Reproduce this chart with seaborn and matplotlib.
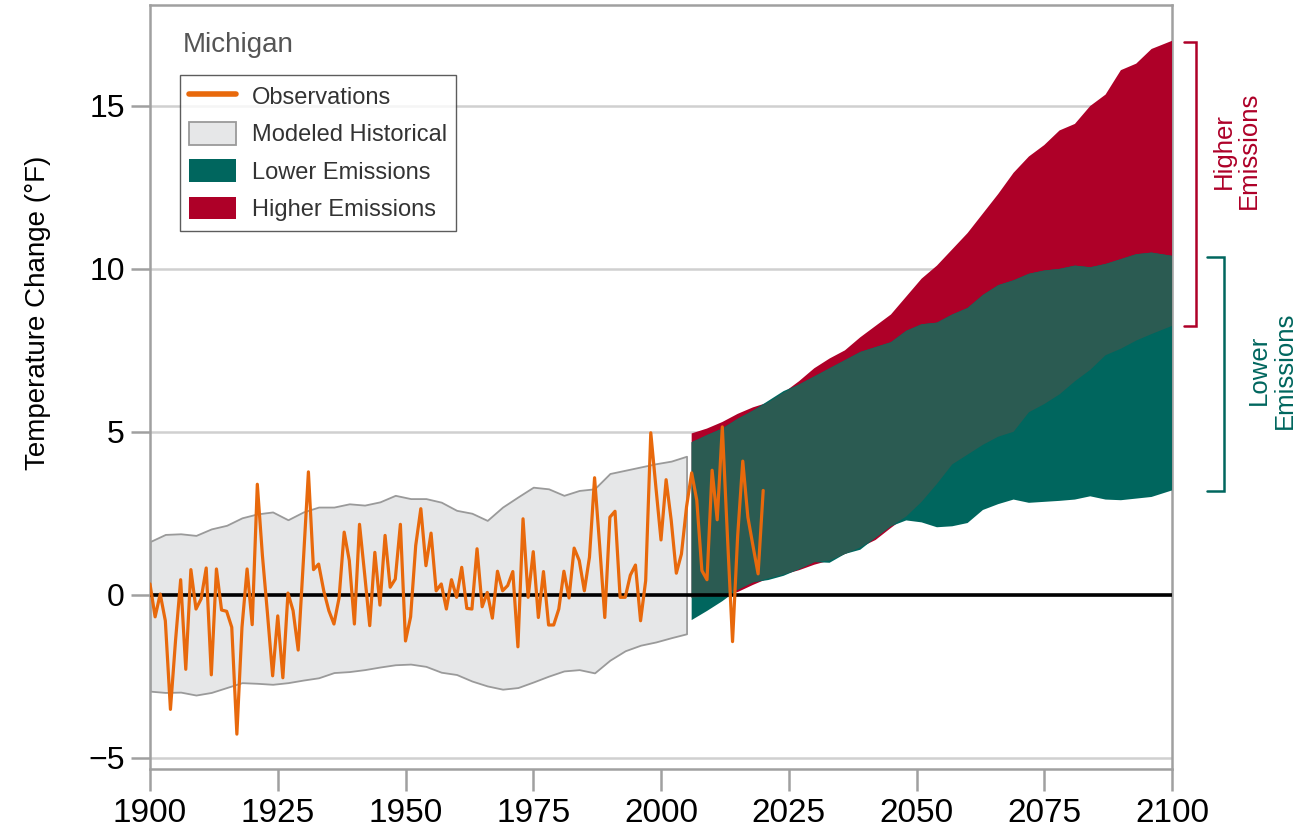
import numpy as np
import pandas as pd
import matplotlib
matplotlib.use("Agg")
import matplotlib.pyplot as plt
import seaborn as sns
from matplotlib.lines import Line2D
from matplotlib.patches import Patch

# ---------------- data ----------------
obs_years = list(range(1900, 2021))
obs_values = [
    0.33, -0.68, 0.02, -0.8, -3.52, -1.4, 0.46, -2.29, 0.77, -0.44,
    -0.13, 0.82, -2.46, 0.79, -0.47, -0.51, -1.0, -4.28, -1.0, 0.79,
    -0.92, 3.39, 1.2, -0.6, -2.49, -0.65, -2.55, 0.05, -0.49, -1.7,
    1.0, 3.77, 0.77, 0.94, 0.12, -0.49, -0.9, -0.1, 1.92, 1.05,
    -0.9, 2.16, 0.64, -0.95, 1.3, -0.32, 1.82, 0.23, 0.48, 2.16,
    -1.42, -0.68, 1.51, 2.64, 0.89, 1.89, 0.12, 0.33, -0.44, 0.46,
    -0.08, 0.84, -0.42, -0.44, 1.41, -0.37, 0.07, -0.72, 0.72, 0.12,
    0.28, 0.71, -1.6, 2.33, -0.08, 1.32, -0.7, 0.71, -0.93, -0.93,
    -0.44, 0.72, -0.1, 1.43, 1.05, 0.12, 1.15, 3.59, 1.5, -0.7,
    2.38, 2.56, -0.08, -0.08, 0.6, 0.91, -0.8, 0.43, 4.97, 3.3,
    1.68, 3.53, 2.28, 0.66, 1.25, 2.7, 3.74, 2.9, 0.74, 0.46,
    3.82, 2.3, 5.15, 1.8, -1.44, 1.8, 4.1, 2.38, 1.5, 0.64, 3.2,
]

hist_years = [1900, 1903, 1906, 1909, 1912, 1915, 1918, 1921, 1924, 1927,
              1930, 1933, 1936, 1939, 1942, 1945, 1948, 1951, 1954, 1957,
              1960, 1963, 1966, 1969, 1972, 1975, 1978, 1981, 1984, 1987,
              1990, 1993, 1996, 1999, 2002, 2005]
hist_upper = [1.63, 1.85, 1.87, 1.82, 2.02, 2.13, 2.36, 2.48, 2.54, 2.3,
              2.54, 2.69, 2.69, 2.79, 2.75, 2.85, 3.05, 2.95, 2.95, 2.84,
              2.59, 2.5, 2.28, 2.69, 3.0, 3.3, 3.25, 3.05, 3.2, 3.25,
              3.72, 3.82, 3.92, 4.02, 4.1, 4.25]
hist_lower = [-2.96, -3.0, -2.99, -3.08, -3.0, -2.85, -2.7, -2.72, -2.75, -2.7,
              -2.62, -2.55, -2.39, -2.36, -2.3, -2.22, -2.15, -2.13, -2.2, -2.38,
              -2.45, -2.65, -2.8, -2.9, -2.85, -2.68, -2.5, -2.34, -2.3, -2.4,
              -2.01, -1.72, -1.55, -1.45, -1.32, -1.2]

proj_years = [2006, 2009, 2012, 2015, 2018, 2021, 2024, 2027, 2030, 2033,
              2036, 2039, 2042, 2045, 2048, 2051, 2054, 2057, 2060, 2063,
              2066, 2069, 2072, 2075, 2078, 2081, 2084, 2087, 2090, 2093,
              2096, 2100]
higher_upper = [4.95, 5.1, 5.3, 5.55, 5.75, 5.9, 6.2, 6.55, 6.95, 7.25,
                7.5, 7.9, 8.25, 8.6, 9.15, 9.7, 10.1, 10.6, 11.1, 11.7,
                12.3, 12.95, 13.45, 13.8, 14.25, 14.45, 15.0, 15.35, 16.1, 16.3,
                16.75, 17.0]
higher_lower = [-0.1, -0.05, 0.02, 0.08, 0.3, 0.5, 0.62, 0.75, 0.92, 1.05,
                1.25, 1.45, 1.68, 2.05, 2.4, 2.85, 3.4, 4.0, 4.3, 4.6,
                4.85, 5.0, 5.6, 5.85, 6.15, 6.55, 6.9, 7.35, 7.55, 7.8,
                8.0, 8.25]
lower_upper = [4.68, 4.9, 5.1, 5.4, 5.65, 5.95, 6.25, 6.45, 6.7, 6.95,
               7.2, 7.45, 7.6, 7.75, 8.1, 8.3, 8.35, 8.6, 8.8, 9.2,
               9.5, 9.65, 9.85, 9.95, 10.0, 10.1, 10.05, 10.15, 10.3, 10.45,
               10.5, 10.4]
lower_lower = [-0.78, -0.5, -0.2, 0.15, 0.38, 0.45, 0.58, 0.78, 1.0, 0.98,
               1.25, 1.38, 1.75, 2.1, 2.28, 2.22, 2.07, 2.1, 2.2, 2.6,
               2.78, 2.92, 2.82, 2.85, 2.88, 2.92, 3.02, 2.92, 2.9, 2.95,
               3.0, 3.2]

x_ticks = [1900, 1925, 1950, 1975, 2000, 2025, 2050, 2075, 2100]
y_ticks = [-5, 0, 5, 10, 15]

# ---------------- style ----------------
ORANGE = "#E8690C"
GRAY_FILL = "#E6E7E8"
GRAY_EDGE = "#9A9A9A"
TEAL = "#00665E"
RED = "#AE0028"
OVERLAP = "#2B5B52"
AXIS_GRAY = "#A0A0A0"

sns.set_style("white")
plt.rcParams['font.family'] = ['Liberation Sans', 'DejaVu Sans']

fig = plt.figure(figsize=(13.03, 8.32), dpi=100)
ax = fig.add_axes([150 / 1303, 1 - 769 / 832, 1022 / 1303, 764 / 832])

obs_df = pd.DataFrame({"year": obs_years, "value": obs_values})

# modeled historical band
ax.fill_between(hist_years, hist_lower, hist_upper, facecolor=GRAY_FILL,
                edgecolor=GRAY_EDGE, linewidth=1.3, zorder=2)

# projections
py = np.array(proj_years, dtype=float)
hu, hl = np.array(higher_upper), np.array(higher_lower)
lu, ll = np.array(lower_upper), np.array(lower_lower)
ax.fill_between(py, hl, hu, facecolor=RED, edgecolor="none", linewidth=0, zorder=3)
ax.fill_between(py, ll, lu, facecolor=TEAL, edgecolor="none", linewidth=0, zorder=3.1)
ov_lo = np.maximum(hl, ll)
ov_hi = np.minimum(hu, lu)
ax.fill_between(py, ov_lo, ov_hi, where=ov_hi > ov_lo, interpolate=True,
                facecolor=OVERLAP, edgecolor="none", linewidth=0, zorder=3.2)

# zero line
ax.axhline(0, color="black", lw=2.6, zorder=4)

# observations
sns.lineplot(data=obs_df, x="year", y="value", color=ORANGE, lw=2.3,
             ax=ax, zorder=5, legend=False)

# axes formatting
ax.set_xlim(1900, 2100)
ax.set_ylim(-5.35, 18.1)
ax.set_xticks(x_ticks)
ax.set_yticks(y_ticks)
ax.set_xticklabels([str(t) for t in x_ticks])
ax.set_yticklabels([f"{t}".replace("-", "\u2212") for t in y_ticks])
ax.set_xlabel("")
ax.set_ylabel("Temperature Change (°F)", fontsize=20, color="black")
ax.yaxis.set_label_coords(-0.097, 0.597)
ax.yaxis.grid(True, color="#D0D0D0", lw=1.8, zorder=0)
ax.set_axisbelow(True)
for sp in ax.spines.values():
    sp.set_color(AXIS_GRAY)
    sp.set_linewidth(1.8)
    sp.set_visible(True)
ax.tick_params(axis="y", direction="out", length=14, width=1.8, color=AXIS_GRAY,
               labelsize=23, labelcolor="black", pad=4, left=True)
ax.tick_params(axis="x", direction="out", length=16, width=1.8, color=AXIS_GRAY,
               labelsize=24, labelcolor="black", pad=5, bottom=True)

# title text
ax.text(0.032, 0.948, "Michigan", transform=ax.transAxes, fontsize=20,
        color="#555555", ha="left", va="center")

# legend
handles = [
    Line2D([0], [0], color=ORANGE, lw=4, solid_capstyle="round"),
    Patch(facecolor=GRAY_FILL, edgecolor=GRAY_EDGE, linewidth=1.3),
    Patch(facecolor=TEAL, edgecolor="none"),
    Patch(facecolor=RED, edgecolor="none"),
]
labels = ["Observations", "Modeled Historical", "Lower Emissions", "Higher Emissions"]
leg = ax.legend(handles, labels, loc="upper left", bbox_to_anchor=(0.029, 0.908),
                borderaxespad=0, fontsize=17, frameon=True, fancybox=False,
                handlelength=2.0, handleheight=1.1, handletextpad=0.65,
                labelspacing=0.55, borderpad=0.4)
leg.get_frame().set_edgecolor("#333333")
leg.get_frame().set_linewidth(1.0)
for t in leg.get_texts():
    t.set_color("#333333")

# right-side brackets and labels
rx_v, rx_t = 2104.6, 2102.3
ax.plot([rx_t, rx_v, rx_v, rx_t], [hl[-1], hl[-1], hu[-1] - 0.05, hu[-1] - 0.05],
        color=RED, lw=1.8, clip_on=False, solid_joinstyle="miter")
tx_v, tx_t = 2110.1, 2106.8
ax.plot([tx_t, tx_v, tx_v, tx_t], [ll[-1] - 0.03, ll[-1] - 0.03, lu[-1] - 0.03, lu[-1] - 0.03],
        color=TEAL, lw=1.8, clip_on=False, solid_joinstyle="miter")
ax.text(2112.6, (hl[-1] + hu[-1]) / 2 + 1.0, "Higher\nEmissions", rotation=90,
        color=RED, fontsize=18.5, ha="center", va="center", multialignment="center",
        linespacing=1.1, clip_on=False)
ax.text(2119.5, (ll[-1] + lu[-1]) / 2 + 0.1, "Lower\nEmissions", rotation=90,
        color=TEAL, fontsize=18.5, ha="center", va="center", multialignment="center",
        linespacing=1.1, clip_on=False)

fig.savefig("out.png", dpi=100)
